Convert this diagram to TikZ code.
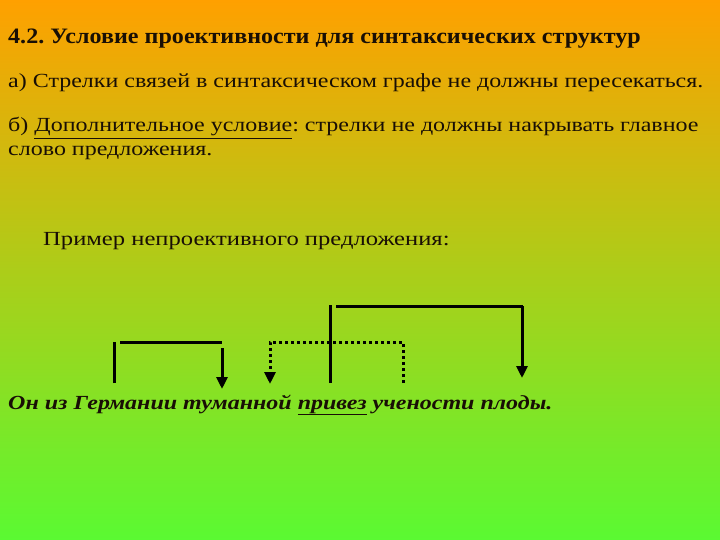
\documentclass[tikz,border=0pt]{standalone}
\usepackage{fontspec}
\usepackage{graphicx}
\setmainfont{Liberation Serif}
\frenchspacing
\usetikzlibrary{arrows.meta}
\definecolor{bgtop}{RGB}{255,160,0}
\definecolor{bgmid}{RGB}{205,210,32}
\definecolor{bgbot}{RGB}{90,250,50}
\definecolor{ink}{RGB}{25,15,5}
\tikzset{
  txt/.style={anchor=base west, inner sep=0pt, text=ink},
  link/.style={line width=3pt, draw=black},
  linkdot/.style={link, dash pattern=on 3pt off 3pt},
  head/.style={-{Triangle[width=11pt,length=12pt]}}
}
\newcommand{\wide}[2]{\scalebox{#1}[1]{#2}}
\begin{document}
\begin{tikzpicture}[x=1pt,y=-1pt]
\shade[top color=bgtop, middle color=bgmid, bottom color=bgbot] (0,0) rectangle (720,540);
\useasboundingbox (0,0) rectangle (720,540);
\node[txt, font=\fontsize{22}{26}\selectfont\bfseries] (title) at (8,44) {\wide{1.095}{4.2. Условие проективности для синтаксических структур}};
\node[txt, font=\fontsize{20}{23}\selectfont] (a) at (8,88) {\wide{1.2}{а) Стрелки связей в синтаксическом графе не должны пересекаться.}};
\node[txt, font=\fontsize{20}{23}\selectfont] (b) at (8,132) {\wide{1.2}{б) \underline{Дополнительное условие}: стрелки не должны накрывать главное}};
\node[txt, font=\fontsize{20}{23}\selectfont] (b2) at (8,156) {\wide{1.2}{слово предложения.}};
\node[txt, font=\fontsize{20}{23}\selectfont] (ex) at (43,245) {\wide{1.23}{Пример непроективного предложения:}};
\node[txt, font=\fontsize{20}{23}\selectfont\bfseries\itshape] (sent) at (8,409) {\wide{1.2}{Он из Германии туманной \underline{привез} учености плоды.}};
% link 1
\coordinate (g1) at (114,383); \coordinate (g2) at (114,342);
\coordinate (h1) at (120,342); \coordinate (h2) at (222,342);
\coordinate (t1) at (222,348); \coordinate (t2) at (222,389);
\draw[link] (g1) -- (g2);
\draw[link] (h1) -- (h2);
\draw[link, head] (t1) -- (t2);
% dotted link
\coordinate (u1) at (403,383); \coordinate (u2) at (403,342);
\coordinate (u3) at (270,342); \coordinate (u4) at (270,384);
\draw[linkdot, head] (u1) -- (u2) -- (u3) -- (u4);
% long link
\coordinate (p1) at (330,383); \coordinate (p2) at (330,305);
\coordinate (q1) at (336,306); \coordinate (q2) at (523,306);
\coordinate (r1) at (522,306); \coordinate (r2) at (522,378);
\draw[link] (p1) -- (p2);
\draw[link] (q1) -- (q2);
\draw[link, head] (r1) -- (r2);
\end{tikzpicture}
\end{document}
